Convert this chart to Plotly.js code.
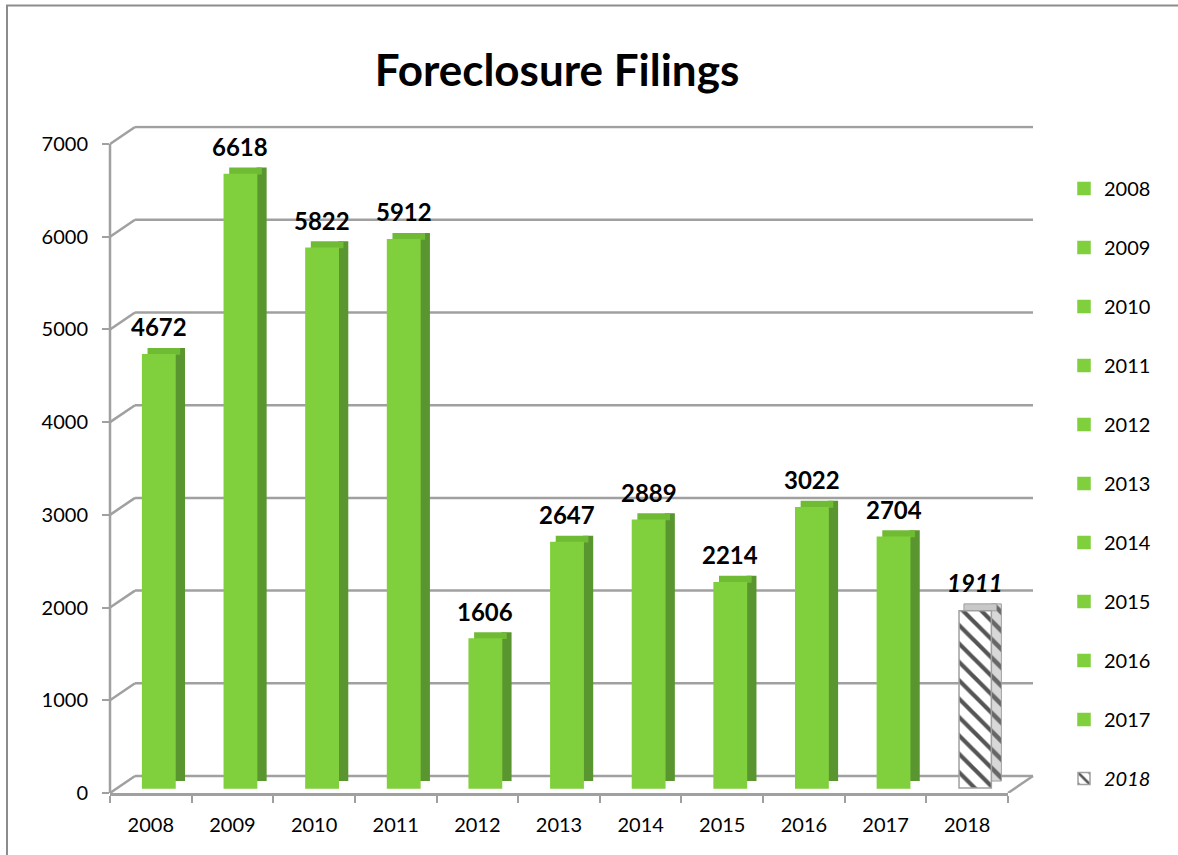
<!DOCTYPE html>
<html>
<head>
<meta charset="utf-8">
<script src="https://cdn.plot.ly/plotly-3.0.1.min.js"></script>
<style>html,body{margin:0;padding:0;background:#fff;}#chart{width:1178px;height:855px;}</style>
</head>
<body>
<div id="chart"></div>
<script>
// ---- data ----
const years = ['2008','2009','2010','2011','2012','2013','2014','2015','2016','2017','2018'];
const filings = [4672, 6618, 5822, 5912, 1606, 2647, 2889, 2214, 3022, 2704, 1911];
const yTicks = [0, 1000, 2000, 3000, 4000, 5000, 6000, 7000];
const projectedYear = '2018';

// ---- style constants ----
const W = 1178, H = 855;
const FONT = 'Lato, "Noto Sans", sans-serif';
const GRID = '#a0a0a0';
const GREEN = '#80cf3d', GREEN_TOP = '#70bb34', GREEN_SIDE = '#5a9630';
const BASE = 54;      // bars sit slightly behind the front floor edge
const DEPTH = 75;     // vertical depth of side/top faces (value units)
const WALL = 183;     // offset front axis -> back wall (value units)
const YMAX = 7200;    // axis range top (leaves room for the back wall)

const px = x => x / W;
const py = y => 1 - y / H;

const traces = [];
years.forEach((yr, i) => {
  const v = filings[i];
  const proj = yr === projectedYear;
  const frontMarker = proj
    ? {color:'#ffffff', line:{color:'#a0a0a0', width:1.5}, pattern:{shape:'\\', fgcolor:'#555555', bgcolor:'#ffffff', size:13, solidity:0.32}}
    : {color:GREEN, line:{color:GREEN, width:1.5}};
  const sideMarker = proj
    ? {color:'#d0d0d0', line:{color:'#a0a0a0', width:1}, pattern:{shape:'\\', fgcolor:'#666666', bgcolor:'#d8d8d8', size:13, solidity:0.35}}
    : {color:GREEN_SIDE, line:{width:0}};
  const topMarker = proj
    ? {color:'#c8c8c8', line:{color:'#a0a0a0', width:1}}
    : {color:GREEN_TOP, line:{width:0}};
  // side face
  traces.push({type:'bar', x:[yr], y:[v], base:[BASE + DEPTH], offset:0.296, width:0.123,
    marker:sideMarker, showlegend:false, hoverinfo:'skip', legendgroup:yr});
  // top face
  traces.push({type:'bar', x:[yr], y:[DEPTH], base:[v + BASE], offset:-0.04, width:0.4,
    marker:topMarker, showlegend:false, hoverinfo:'skip', legendgroup:yr});
  // front face (legend entry)
  traces.push({type:'bar', x:[yr], y:[v], base:[BASE], offset:-0.1, width:0.396,
    marker:frontMarker,
    name: proj ? '<i>' + yr + '</i>' : yr, legendgroup:yr, showlegend:true,
    hovertemplate: yr + ': ' + v + '<extra></extra>'});
});

const annotations = years.map((yr, i) => ({
  x: i, y: filings[i], xref:'x', yref:'y',
  text: yr === projectedYear ? '<b><i>' + filings[i] + '</i></b>' : '<b>' + filings[i] + '</b>',
  showarrow:false, xshift:8, yshift:33,
  font:{family:FONT, size:24, color:'#000000'}
}));

const shapes = [];
yTicks.forEach(t => {
  // back-wall gridline
  shapes.push({type:'line', xref:'paper', yref:'y', x0:px(135), x1:px(1033), y0:t + WALL, y1:t + WALL,
    line:{color:GRID, width:2.5}, layer:'below'});
  // depth diagonal from front axis to back wall
  shapes.push({type:'line', xref:'paper', yref:'y', x0:px(110), x1:px(135), y0:t, y1:t + WALL,
    line:{color:GRID, width:2.5}, layer:'below'});
});
// front value axis line (0 .. top tick)
shapes.push({type:'line', xref:'paper', yref:'y', x0:px(110), x1:px(110), y0:yTicks[0], y1:yTicks[yTicks.length - 1],
  line:{color:GRID, width:2.5}, layer:'below'});
// floor right edge
shapes.push({type:'line', xref:'paper', yref:'y', x0:px(1008), x1:px(1033), y0:0, y1:WALL,
  line:{color:GRID, width:2.5}, layer:'below'});
// chart frame (left + top)
shapes.push({type:'line', xref:'paper', yref:'paper', x0:px(7), x1:px(7), y0:0, y1:py(5.5),
  line:{color:'#8c8c8c', width:2}});
shapes.push({type:'line', xref:'paper', yref:'paper', x0:px(6), x1:1, y0:py(5.5), y1:py(5.5),
  line:{color:'#8c8c8c', width:2}});

const yScale = (793 - 144) / 7000; // px per unit
const layout = {
  width:W, height:H,
  margin:{l:0, r:0, t:0, b:0},
  paper_bgcolor:'#ffffff', plot_bgcolor:'rgba(0,0,0,0)',
  font:{family:FONT, size:20, color:'#000'},
  title:{text:'<b>Foreclosure Filings</b>', x:px(557), xanchor:'center', y:py(71), yanchor:'middle',
    font:{family:FONT, size:44, color:'#000'}},
  barmode:'overlay',
  xaxis:{domain:[px(110), px(1008)], type:'category', categoryorder:'array', categoryarray:years,
    range:[-0.5, 10.5], showgrid:false, zeroline:false,
    showline:true, linecolor:GRID, linewidth:2.5, ticks:'outside', tickson:'boundaries', ticklen:7, tickwidth:2, tickcolor:GRID,
    tickfont:{family:FONT, size:20, color:'#000'}, ticklabelstandoff:12, fixedrange:true},
  yaxis:{domain:[py(793), py(793 - YMAX * yScale)], range:[0, YMAX], tickvals:yTicks, showgrid:false, zeroline:false,
    showline:false, ticks:'outside', ticklen:7, tickwidth:2, tickcolor:GRID,
    tickfont:{family:FONT, size:20, color:'#000'}, ticklabelstandoff:10, fixedrange:true},
  legend:{x:px(1064), xanchor:'left', y:py(169), yanchor:'top', tracegroupgap:30,
    font:{family:FONT, size:20, color:'#000'}, bgcolor:'rgba(0,0,0,0)', itemclick:false, itemdoubleclick:false},
  annotations:annotations,
  shapes:shapes,
  showlegend:true
};

Plotly.newPlot('chart', traces, layout, {displayModeBar:false, staticPlot:true});
</script>
</body>
</html>
